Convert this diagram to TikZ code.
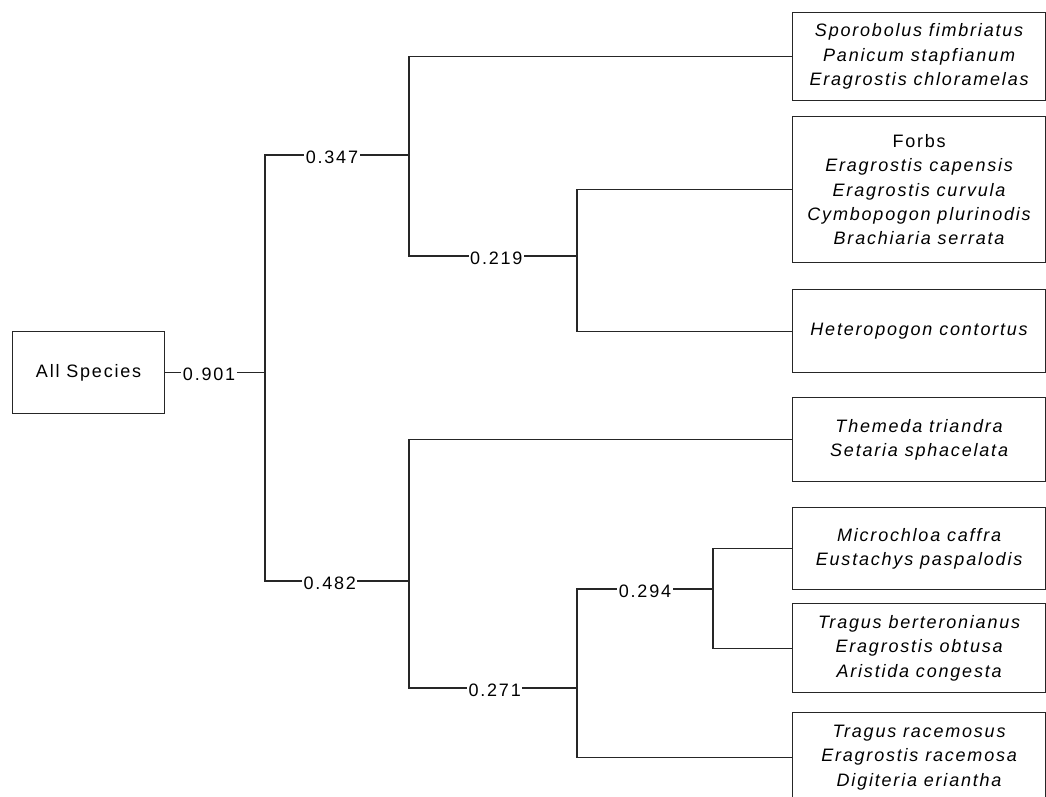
\documentclass[tikz,border=0pt]{standalone}
\usepackage{fontspec}
\setmainfont{Liberation Sans}[LetterSpace=10]
\begin{document}
\begin{tikzpicture}[x=1pt,y=-1pt,
  ln/.style={line width=1.2pt, draw=black!85, line join=miter},
  box/.style={draw=black!85, line width=1.2pt, anchor=north west, minimum width=253pt,
    align=center, inner sep=0pt, font=\fontsize{18}{24.4}\selectfont\itshape},
  rootbox/.style={box, minimum width=152pt, minimum height=82pt, font=\fontsize{18}{24.4}\selectfont},
  lbl/.style={fill=white, inner xsep=1.5pt, inner ysep=1pt, font=\fontsize{18}{20}\selectfont, yshift=-2pt}]
\useasboundingbox (0,0) rectangle (1046,796);
\clip (0,0) rectangle (1046,796);
% boxes
\node[rootbox] (root) at (12,331) {All Species};
\node[box, minimum height=88pt] (b1) at (792,12) {Sporobolus fimbriatus\\Panicum stapfianum\\Eragrostis chloramelas};
\node[box, minimum height=146pt] (b2) at (792,116) {{\upshape Forbs}\\Eragrostis capensis\\Eragrostis curvula\\Cymbopogon plurinodis\\Brachiaria serrata};
\node[box, minimum height=83pt] (b3) at (792,289) {Heteropogon contortus};
\node[box, minimum height=84pt] (b4) at (792,397) {Themeda triandra\\Setaria sphacelata};
\node[box, minimum height=82pt] (b5) at (792,507) {Microchloa caffra\\Eustachys paspalodis};
\node[box, minimum height=89pt] (b6) at (792,603) {Tragus berteronianus\\Eragrostis obtusa\\Aristida congesta};
\node[box, minimum height=90pt] (b7) at (792,712) {Tragus racemosus\\Eragrostis racemosa\\Digiteria eriantha};
% columns
\coordinate (c0) at (265,0);
\coordinate (c1) at (409,0);
\coordinate (c2) at (577,0);
\coordinate (c3) at (713,0);
% junctions
\coordinate (j0) at (c0 |- root.east);
\coordinate (j0t) at (265,155);
\coordinate (j0b) at (265,581);
\coordinate (j1) at (409,155);
\coordinate (j1t) at (c1 |- b1.west);
\coordinate (j1b) at (409,256);
\coordinate (j2) at (577,256);
\coordinate (j2t) at (c2 |- b2.west);
\coordinate (j2b) at (c2 |- b3.west);
\coordinate (j3) at (409,581);
\coordinate (j3t) at (c1 |- b4.west);
\coordinate (j3b) at (409,688);
\coordinate (j4) at (577,688);
\coordinate (j4t) at (577,589);
\coordinate (j4b) at (c2 |- b7.west);
\coordinate (j5) at (713,589);
\coordinate (j5t) at (c3 |- b5.west);
\coordinate (j5b) at (c3 |- b6.west);
% connectors
\draw[ln] (root.east) -- node[lbl, pos=0.44]{0.901} (j0);
\draw[ln] (j1) -- node[lbl, pos=0.535]{0.347} (j0t) -- (j0b) -- node[lbl, pos=0.45]{0.482} (j3);
\draw[ln] (b1.west) -- (j1t) -- (j1b) -- node[lbl, pos=0.52]{0.219} (j2);
\draw[ln] (b2.west) -- (j2t) -- (j2b) -- (b3.west);
\draw[ln] (b4.west) -- (j3t) -- (j3b) -- node[lbl, pos=0.51]{0.271} (j4);
\draw[ln] (j5) -- node[lbl, pos=0.5]{0.294} (j4t) -- (j4b) -- (b7.west);
\draw[ln] (b5.west) -- (j5t) -- (j5b) -- (b6.west);
\end{tikzpicture}
\end{document}
